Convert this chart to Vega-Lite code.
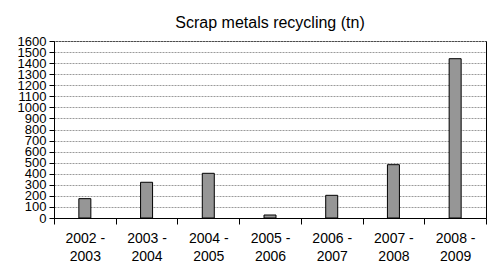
{
  "$schema": "https://vega.github.io/schema/vega-lite/v6.json",
  "autosize": {"type": "none"},
  "width": 432,
  "height": 177,
  "padding": {"left": 54, "top": 41, "right": 5, "bottom": 53},
  "background": "white",
  "title": {"text": "Scrap metals recycling (tn)", "font": "Liberation Sans", "fontSize": 16, "fontWeight": "normal", "color": "black", "offset": 4},
  "data": {"values": [
    {"period": "2002 - 2003", "tn": 175},
    {"period": "2003 - 2004", "tn": 323},
    {"period": "2004 - 2005", "tn": 404},
    {"period": "2005 - 2006", "tn": 27},
    {"period": "2006 - 2007", "tn": 205},
    {"period": "2007 - 2008", "tn": 482},
    {"period": "2008 - 2009", "tn": 1440}
  ]},
  "mark": {"type": "bar", "width": 12, "fill": "#969696", "stroke": "black", "strokeWidth": 1},
  "encoding": {
    "x": {"field": "period", "type": "nominal", "sort": null, "title": null,
      "scale": {"paddingInner": 0, "paddingOuter": 0},
      "axis": {"labelAngle": 0, "labelExpr": "[slice(datum.label,0,6), slice(datum.label,7)]", "labelFont": "Liberation Sans", "labelFontSize": 14, "labelColor": "black", "labelLineHeight": 18, "labelPadding": 7, "bandPosition": 0, "tickBand": "extent", "tickColor": "black", "tickSize": 6, "domainColor": "black", "grid": false}},
    "y": {"field": "tn", "type": "quantitative", "title": null,
      "scale": {"domain": [0, 1600], "nice": false},
      "axis": {"values": [0,100,200,300,400,500,600,700,800,900,1000,1100,1200,1300,1400,1500,1600], "format": "d", "labelFont": "Liberation Sans", "labelFontSize": 13, "labelColor": "black", "labelPadding": 3, "tickColor": "black", "tickSize": 5, "domainColor": "black", "gridColor": "#9a9a9a", "gridDash": [2, 1], "gridWidth": 1, "labelOverlap": false, "labelBaseline": "middle"}}
  },
  "config": {"view": {"stroke": "black", "strokeWidth": 1}, "axis": {"domainWidth": 1, "tickWidth": 1}}
}
